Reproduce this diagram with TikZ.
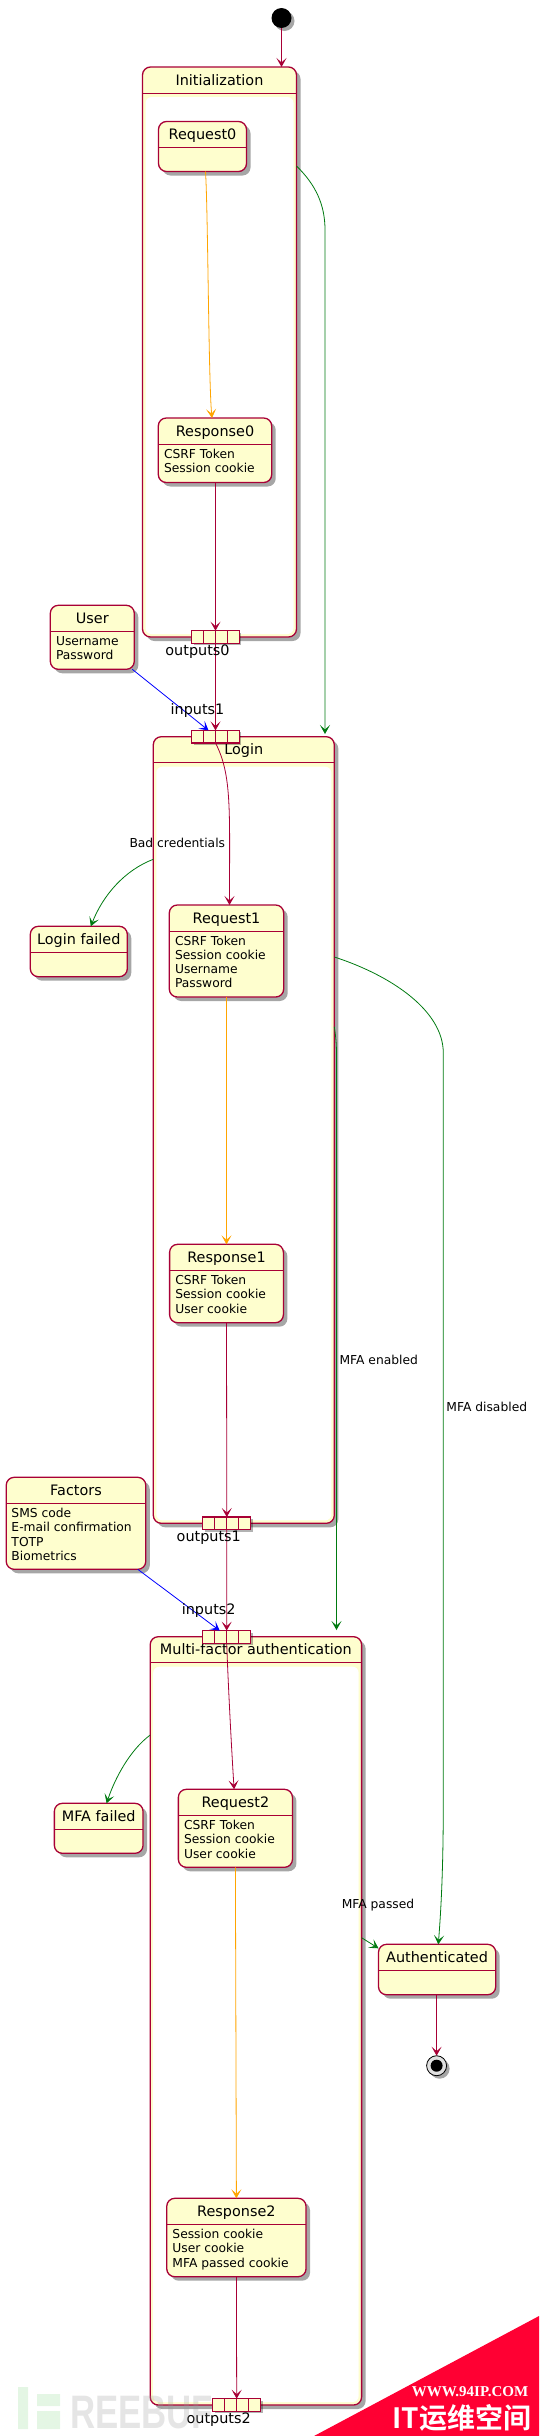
\documentclass[tikz,border=0pt]{standalone}
\usepackage{fontspec}
\usepackage{xcolor}
\setmainfont{DejaVu Sans}
\newfontfamily\wmfont{Noto Sans CJK SC}[BoldFont=* Bold]
\newfontfamily\wmserif{Liberation Serif}
\newfontfamily\fbfont[FakeStretch=0.74]{Liberation Sans}
\usetikzlibrary{arrows.meta,positioning,shadows}
\definecolor{stateline}{HTML}{A80036}
\definecolor{statefill}{HTML}{FEFECE}
\definecolor{okgreen}{HTML}{007A10}
\definecolor{reqamber}{HTML}{FFA500}
\definecolor{wmred}{HTML}{FF0033}

\begin{document}
\begin{tikzpicture}[
  x=1pt,y=-1pt,
  state/.style 2 args={draw=stateline,line width=1.3pt,fill=statefill,rounded corners=8pt,
    minimum width=#1,minimum height=#2,inner sep=0pt,outer sep=0pt,
    text height=18pt,text depth=#2-18pt,font=\fontsize{14.4}{17}\selectfont,
    drop shadow={shadow xshift=4pt,shadow yshift=-4pt,fill=black,opacity=.35},
    path picture={\draw[stateline,line width=1pt]
      ([yshift=-26pt]path picture bounding box.north west) -- ([yshift=-26pt]path picture bounding box.north east);}},
  comp/.style 2 args={state={#1}{#2},
    path picture={\fill[white,rounded corners=6pt]
        ([shift={(3pt,-30pt)}]path picture bounding box.north west) rectangle ([shift={(-3pt,3pt)}]path picture bounding box.south east);
      \draw[stateline,line width=1pt]
      ([yshift=-26pt]path picture bounding box.north west) -- ([yshift=-26pt]path picture bounding box.north east);}},
  body/.style={inner sep=0pt,outer sep=0pt,anchor=north west,align=left,font=\fontsize{12.3}{14.2}\selectfont},
  port/.style={draw=stateline,line width=1.1pt,fill=statefill,minimum width=47.8pt,minimum height=12.6pt,inner sep=0pt,outer sep=0pt,
    drop shadow={shadow xshift=2pt,shadow yshift=-2pt,fill=black,opacity=.3},
    path picture={\foreach \k in {-12,0,12} \draw[stateline,line width=1.1pt]
      ([xshift=\k pt]path picture bounding box.north) -- ([xshift=\k pt]path picture bounding box.south);}},
  portlbl/.style={inner sep=0pt,font=\fontsize{14.4}{17}\selectfont},
  edgelbl/.style={inner sep=0pt,font=\fontsize{12.3}{14.2}\selectfont},
  arr/.style={-{Stealth[length=9pt,width=10pt,inset=4.5pt]},line width=.8pt},
  flow/.style={arr,stateline},
  reqflow/.style={arr,reqamber},
  inflow/.style={arr,blue},
  okflow/.style={arr,okgreen},
  startdot/.style={circle,fill=black,minimum size=20pt,inner sep=0pt,outer sep=0pt,
    drop shadow={shadow xshift=3pt,shadow yshift=-3pt,fill=black,opacity=.35}},
  stopdot/.style={circle,draw=black,line width=.8pt,fill=black!12,minimum size=20pt,inner sep=0pt,outer sep=0pt,
    drop shadow={shadow xshift=3pt,shadow yshift=-3pt,fill=black,opacity=.35},
    path picture={\fill[black] (path picture bounding box.center) circle (6pt);}}
]
  \useasboundingbox (0,0) rectangle (539,2436);

  % composite states
  \node[comp={154pt}{570pt}] (init) at (219.5,352) {Initialization};
  \node[comp={181pt}{786.6pt}, below=99.7pt of init, xshift=24.3pt] (login) {Login};
  \node[comp={211.4pt}{768.3pt}, below=113.4pt of login, xshift=12.1pt] (mfa) {Multi-factor authentication};

  % inner states
  \node[state={88pt}{50pt}, below=54.5pt of init.north, xshift=-17pt] (req0) {Request0};
  \node[state={113.4pt}{64.5pt}, below=246.5pt of req0, xshift=12.5pt] (resp0) {Response0};
  \node[body, below right=31pt and 5.7pt of resp0.north west] (resp0b) {CSRF Token\\Session cookie};
  \node[state={114.4pt}{92pt}, below=168.3pt of login.north, xshift=-17.3pt] (req1) {Request1};
  \node[body, below right=31pt and 5.7pt of req1.north west] (req1b) {CSRF Token\\Session cookie\\Username\\Password};
  \node[state={113.8pt}{78.4pt}, below=247.3pt of req1] (resp1) {Response1};
  \node[body, below right=31pt and 5.7pt of resp1.north west] (resp1b) {CSRF Token\\Session cookie\\User cookie};
  \node[state={114.1pt}{78pt}, below=152.6pt of mfa.north, xshift=-20.5pt] (req2) {Request2};
  \node[body, below right=31pt and 5.7pt of req2.north west] (req2b) {CSRF Token\\Session cookie\\User cookie};
  \node[state={139.3pt}{78.4pt}, below=331pt of req2, xshift=1pt] (resp2) {Response2};
  \node[body, below right=31pt and 5.7pt of resp2.north west] (resp2b) {Session cookie\\User cookie\\MFA passed cookie};

  % outside states
  \node[startdot] (start) at (281.5,18) {};
  \node[state={84pt}{64pt}] (user) at (92.3,637.3) {User};
  \node[body, below right=31pt and 5.7pt of user.north west] (userb) {Username\\Password};
  \node[state={97pt}{50.4pt}] (lfail) at (78.8,951.5) {Login failed};
  \node[state={139.6pt}{92pt}] (factors) at (76,1523.3) {Factors};
  \node[body, below right=31pt and 5.3pt of factors.north west] (factorsb) {SMS code\\E-mail confirmation\\TOTP\\Biometrics};
  \node[state={88.7pt}{50pt}] (mfail) at (98.7,1828.3) {MFA failed};
  \node[state={117.2pt}{50.4pt}] (authd) at (437.1,1969.5) {Authenticated};
  \node[stopdot] (stop) at (436.6,2065.7) {};

  % ports
  \node[port] (out0) at ([xshift=-4pt]init.south) {};
  \node[port] (in1) at ([xshift=-28.3pt]login.north) {};
  \node[port] (out1) at ([xshift=-17pt]login.south) {};
  \node[port] (in2) at ([xshift=-29.2pt,yshift=-.2pt]mfa.north) {};
  \node[port] (out2) at ([xshift=-19.2pt]mfa.south) {};

  % connectors
  \draw[flow] (start) -- (start |- init.north);
  \draw[reqflow] ([xshift=3pt]req0.south) .. controls (208,210) and (208.5,380) .. ([xshift=-3pt]resp0.north);
  \draw[flow] (out0 |- resp0.south) -- (out0.north);
  \draw[flow] (out0.south) -- (in1.north);
  \draw[okflow] ([yshift=-99pt]init.north east) .. controls (316,185) and (325,205) .. (325,230) -- ([shift={(81.2pt,2.7pt)}]login.north);
  \draw[inflow] ([xshift=-2pt]user.south east) -- ([xshift=-7pt]in1.north);
  \draw[flow] (in1.south) .. controls (232,775) and (229.5,810) .. ([xshift=3pt]req1.north);
  \draw[okflow] ([yshift=-122.6pt]login.north west) .. controls (125,870) and (103,895) .. ([xshift=12pt]lfail.north);
  \draw[reqflow] (req1.south) -- (resp1.north);
  \draw[flow] (resp1.south) -- (out1.north);
  \draw[flow] (out1.south) -- (in2.north);
  \draw[inflow] ([xshift=-8pt]factors.south east) -- ([xshift=-7pt]in2.north);
  \draw[flow] (in2.south) .. controls (228,1680) and (231,1740) .. ([xshift=-1.3pt]req2.north);
  \draw[okflow] ([yshift=-98.3pt]mfa.north west) .. controls (130,1750) and (115,1778) .. ([xshift=7.9pt]mfail.north);
  \draw[reqflow] (req2.south) -- (resp2.north);
  \draw[flow] (resp2.south) -- (out2.north);
  \draw[okflow] ([yshift=-290pt]login.north east) .. controls (335.5,1035) and (336.5,1042) .. (336.5,1055) -- ([shift={(80.6pt,6.7pt)}]mfa.north);
  \draw[okflow] ([yshift=-220.3pt]login.north east) .. controls (390,975) and (443.3,1010) .. (443.3,1053) -- (443.3,1800) .. controls (443.3,1870) and (441,1910) .. ([xshift=1.2pt]authd.north);
  \draw[okflow] ([yshift=-301pt]mfa.north east) -- ([yshift=-4pt]authd.north west);
  \draw[flow] (authd.south -| stop) -- (stop.north);

  % labels
  \node[portlbl, below=1pt of out0, xshift=-18pt] (out0l) {outputs0};
  \node[portlbl, above=13pt of in1, xshift=-18pt] (in1l) {inputs1};
  \node[portlbl, below=1pt of out1, xshift=-18pt] (out1l) {outputs1};
  \node[portlbl, above=13pt of in2, xshift=-18pt] (in2l) {inputs2};
  \node[portlbl, below=1pt of out2, xshift=-18pt] (out2l) {outputs2};
  \node[edgelbl] (badl) at (177.3,842.7) {Bad credentials};
  \node[edgelbl] (enl) at (378.8,1360.3) {MFA enabled};
  \node[edgelbl] (disl) at (486.8,1407.3) {MFA disabled};
  \node[edgelbl] (passl) at (378,1905.3) {MFA passed};

  % watermark
  \fill[black!35!green!30,opacity=.35] (18,2387) rectangle (28,2429) (37,2394) rectangle (60,2406) (37,2411) rectangle (60,2429);
  \node[inner sep=0pt,anchor=base west,text=black!40,opacity=.25,font=\fbfont\bfseries\fontsize{47}{47}\selectfont] (fbuf) at (70,2428) {REEBUF};
  \fill[wmred] (314,2436) -- (539,2316) -- (539,2436) -- cycle;
  \node[inner sep=0pt,text=white,font=\wmserif\bfseries\fontsize{15}{17}\selectfont] (wmurl) at (470,2391.7) {WWW.94IP.COM};
  \node[inner sep=0pt,text=white,font=\wmfont\bfseries\fontsize{28}{30}\selectfont] (wmname) at (462,2418) {IT运维空间};
\end{tikzpicture}
\end{document}
